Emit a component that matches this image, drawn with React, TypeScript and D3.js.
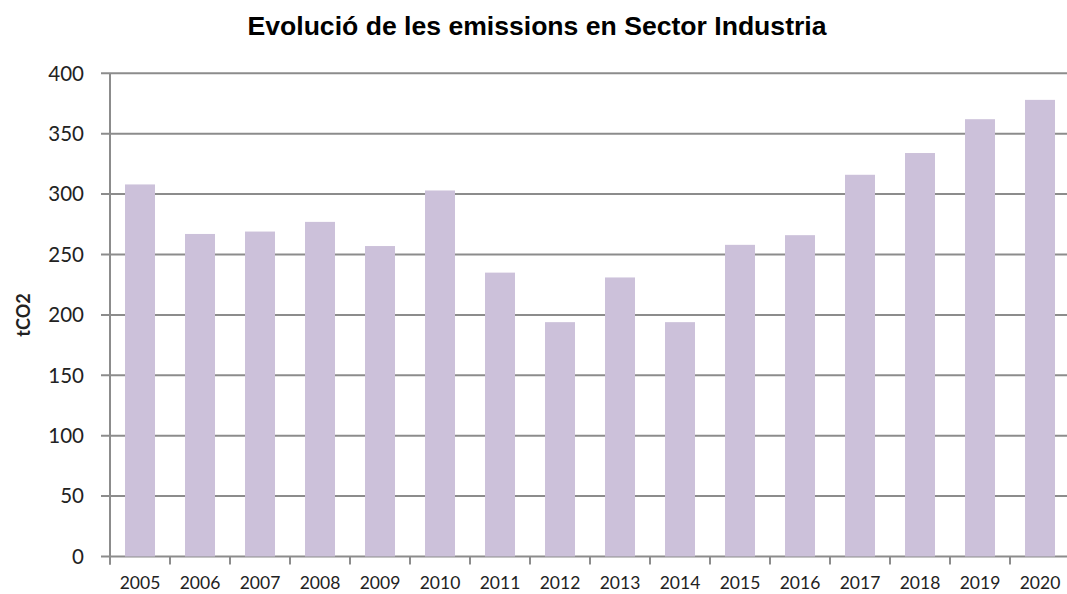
import React from "react";
import * as d3 from "d3";

const years = ["2005","2006","2007","2008","2009","2010","2011","2012","2013","2014","2015","2016","2017","2018","2019","2020"];
const values = [308, 267, 269, 277, 257, 303, 235, 194, 231, 194, 258, 266, 316, 334, 362, 378];
const yTicks = [0, 50, 100, 150, 200, 250, 300, 350, 400];

const W = 1067, H = 594;
const left = 110, right = 1070, top = 73.3, bottom = 556.5;

export default function App() {
  const x = d3.scaleBand<string>().domain(years).range([left, right]).paddingInner(0.5).paddingOuter(0.25);
  const y = d3.scaleLinear().domain([0, 400]).range([bottom, top]);
  const grid = "#8c8c8c";
  const tickFont = "Lato, 'Open Sans', sans-serif";
  return (
    <svg width={W} height={H} style={{ position: "absolute", left: 0, top: 0 }}>
      <rect width={W} height={H} fill="#fff" />
      <text x={537} y={35} textAnchor="middle" fontFamily="'Liberation Sans', Arial, sans-serif" fontWeight="bold" fontSize={26} textLength={579} lengthAdjust="spacingAndGlyphs" fill="#000">
        Evolució de les emissions en Sector Industria
      </text>
      {yTicks.map((t) => (
        <g key={t}>
          <line x1={left - 9} x2={right} y1={y(t)} y2={y(t)} stroke={grid} strokeWidth={2} />
          <text x={84} y={y(t)} dy="0.36em" textAnchor="end" fontFamily={tickFont} fontSize={20.5} fill="#222">{t}</text>
        </g>
      ))}
      {years.map((yr, i) => (
        <rect key={yr} x={x(yr)} y={y(values[i])} width={x.bandwidth()} height={y(0) - y(values[i])} fill="#ccc1da" />
      ))}
      <line x1={left} x2={left} y1={top} y2={bottom + 8} stroke={grid} strokeWidth={2} />
      {years.map((yr, i) => (
        <line key={"t" + yr} x1={left + i * x.step()} x2={left + i * x.step()} y1={bottom} y2={bottom + 8} stroke={grid} strokeWidth={2} />
      ))}
      {years.map((yr) => (
        <text key={"l" + yr} x={(x(yr) as number) + x.bandwidth() / 2} y={589} textAnchor="middle" fontFamily={tickFont} fontSize={17.5} fill="#222">{yr}</text>
      ))}
      <text transform={`translate(30,315) rotate(-90)`} textAnchor="middle" fontFamily={tickFont} fontWeight="bold" fontSize={18} fill="#222">tCO2</text>
    </svg>
  );
}
